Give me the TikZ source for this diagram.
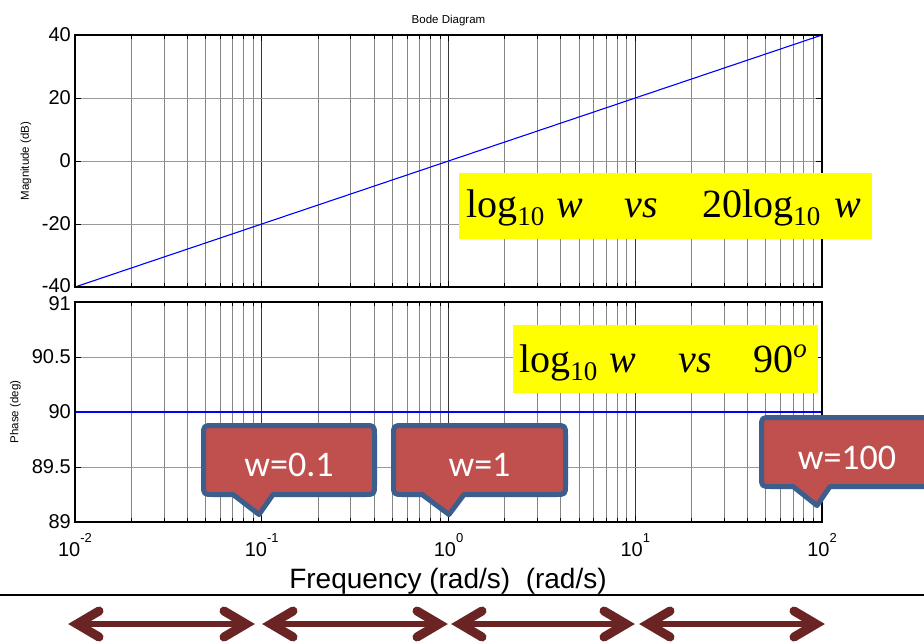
\documentclass[tikz,border=0pt]{standalone}
\usepackage{fontspec}
\setmainfont{Liberation Sans}
\newfontfamily\tmsfont{Liberation Serif}
\newfontfamily\calfont{Carlito}
\usetikzlibrary{calc}

\definecolor{calloutfill}{HTML}{C0504D}
\definecolor{calloutedge}{HTML}{3B5E8C}
\definecolor{arrowred}{HTML}{6B2424}
\definecolor{noteyellow}{HTML}{FFFF00}

% rounded callout with a pointer: left, right, top, bottom, pointer-left, pointer-right, tip-x, tip-y
\newcommand\callbox[8]{%
  \path[callout] (#6,#4) -- ({#2-10},#4) .. controls (#2,#4) .. (#2,{#4-10})
    -- (#2,{#3+10}) .. controls (#2,#3) .. ({#2-10},#3)
    -- ({#1+10},#3) .. controls (#1,#3) .. (#1,{#3+10})
    -- (#1,{#4-10}) .. controls (#1,#4) .. ({#1+10},#4)
    -- (#5,#4) -- (#7,#8) -- cycle;}

% thick double-headed arrow with chevron heads between two named points
\newcommand\twoheaded[2]{%
  \draw[arrshaft] ($(#1)+(9,0)$) -- ($(#2)+(-9,0)$);
  \draw[arrbarb] ($(#1)+(31,-13)$) -- ($(#1)+(9,0)$) -- ($(#1)+(31,13)$);
  \draw[arrbarb] ($(#2)+(-31,-13)$) -- ($(#2)+(-9,0)$) -- ($(#2)+(-31,13)$);}

\begin{document}
\begin{tikzpicture}[x=1pt,y=-1pt,
  minorgrid/.style={draw=black!48, line width=0.9pt},
  majorgrid/.style={draw=black!78, line width=0.9pt},
  hgrid/.style={draw=black!40, line width=0.9pt},
  axisframe/.style={draw=black, line width=2pt},
  tickmark/.style={draw=black, line width=0.9pt},
  trace/.style={draw=blue, line width=1.1pt},
  ticklabel/.style={font=\fontsize{20}{20}\selectfont, inner sep=0pt},
  axislabel/.style={font=\fontsize{11.5}{12}\selectfont, inner sep=0pt},
  notebox/.style={fill=noteyellow, draw=none, inner sep=0pt},
  notetext/.style={font=\tmsfont\fontsize{40}{40}\selectfont, inner sep=0pt, anchor=base west},
  callout/.style={fill=calloutfill, draw=calloutedge, line width=5pt, line join=round},
  callouttext/.style={text=white, font=\calfont\fontsize{36}{36}\selectfont, inner sep=0pt, anchor=base},
  arrshaft/.style={draw=arrowred, line width=6.6pt},
  arrbarb/.style={draw=arrowred, line width=9pt, line cap=round, line join=miter},
]
\path[use as bounding box, fill=white] (0,0) rectangle (924,641);
\clip (0,0) rectangle (924,641);

% ---------- grids and ticks of both axes ----------
\foreach \ya/\yb in {35/287, 302/522} {
  \foreach \d in {0,1,2,3} {
    \foreach \m in {2,...,9} {
      \pgfmathsetmacro\gx{75+186.75*(\d+ln(\m)/ln(10))}
      \draw[minorgrid] (\gx,\ya) -- (\gx,\yb);
      \draw[tickmark] (\gx,\ya) -- (\gx,\ya+4);
      \draw[tickmark] (\gx,\yb) -- (\gx,\yb-4);
    }
  }
  \foreach \d in {1,2,3} {
    \pgfmathsetmacro\gx{75+186.75*\d}
    \draw[majorgrid] (\gx,\ya) -- (\gx,\yb);
    \draw[tickmark] (\gx,\ya) -- (\gx,\ya+6);
    \draw[tickmark] (\gx,\yb) -- (\gx,\yb-6);
  }
}
\foreach \gy in {98,161,224, 357,412,467} {
  \draw[hgrid] (75,\gy) -- (822,\gy);
}
\foreach \gy in {35,98,161,224,287, 302,357,412,467,522} {
  \draw[tickmark] (75,\gy) -- (81,\gy);
  \draw[tickmark] (822,\gy) -- (816,\gy);
}

% ---------- curves ----------
\draw[trace] (75,287) -- (822,35);
\draw[trace] (75,412) -- (822,412);

% ---------- frames ----------
\draw[axisframe] (75,35) rectangle (822,287);
\draw[axisframe] (75,302) rectangle (822,522);

% ---------- tick labels ----------
\foreach \v/\y [count=\i] in {40/35, 20/98, 0/161, -20/224, -40/286} {
  \node[ticklabel, anchor=east] (magtick\i) at (71,\y) {\v};
}
\foreach \v/\y [count=\i] in {91/303.5, 90.5/357, 90/412, 89.5/467, 89/522} {
  \node[ticklabel, anchor=east] (phtick\i) at (71,\y) {\v};
}
\foreach \e [count=\i from 0] in {-2,-1,0,1,2} {
  \node[ticklabel, anchor=base] (ftick\i) at ({75+186.75*\i},556)
    {10\raisebox{14pt}{\fontsize{13}{13}\selectfont\e}};
}

% ---------- titles ----------
\node[axislabel, anchor=base] (title) at (448.5,23.5) {Bode Diagram};
\node[axislabel, rotate=90] (maglabel) at (26,161) {Magnitude (dB)};
\node[axislabel, rotate=90] (phlabel) at (15.5,412) {Phase (deg)};
\node[font=\fontsize{28}{28}\selectfont, inner sep=0pt, anchor=base] (freqlabel) at (448,588)
  {Frequency (rad/s)~ (rad/s)};

% ---------- yellow notes ----------
\node[notebox, anchor=north west, minimum width=413pt, minimum height=66pt] (note1) at (459,173) {};
\node[notetext] (note1text) at (466,217)
  {log\raisebox{-8pt}{\fontsize{27}{27}\selectfont 10}\hspace{12pt}\textit{w}\hspace{42pt}\textit{vs}\hspace{44pt}20log\raisebox{-8pt}{\fontsize{27}{27}\selectfont 10}\hspace{14pt}\textit{w}};
\node[notebox, anchor=north west, minimum width=305pt, minimum height=68pt] (note2) at (513,325) {};
\node[notetext] (note2text) at (519,372)
  {log\raisebox{-8pt}{\fontsize{27}{27}\selectfont 10}\hspace{12pt}\textit{w}\hspace{43pt}\textit{vs}\hspace{41pt}90\raisebox{15pt}{\fontsize{27}{27}\selectfont\textit{o}}};

% ---------- callouts ----------
\callbox{203.5}{374.5}{425.5}{494.5}{233}{273}{259}{514.5}
\callbox{393.5}{565.5}{425.5}{494.5}{422}{464}{449}{514.5}
\callbox{761.5}{932.5}{417.5}{486.5}{793}{830}{817}{505.5}
\node[callouttext] (c1text) at (289,476) {w=0.1};
\node[callouttext] (c2text) at (479.5,476) {w=1};
\node[callouttext] (c3text) at (847,469) {w=100};

% ---------- separator rule ----------
\draw[line width=2.6pt] (0,595) -- (924,595);

% ---------- decade arrows ----------
\coordinate (a1l) at (68,624);  \coordinate (a1r) at (255,624);
\coordinate (a2l) at (262,624); \coordinate (a2r) at (448,624);
\coordinate (a3l) at (451,624); \coordinate (a3r) at (635,624);
\coordinate (a4l) at (639,624); \coordinate (a4r) at (825,624);
\twoheaded{a1l}{a1r}
\twoheaded{a2l}{a2r}
\twoheaded{a3l}{a3r}
\twoheaded{a4l}{a4r}
\end{tikzpicture}
\end{document}
